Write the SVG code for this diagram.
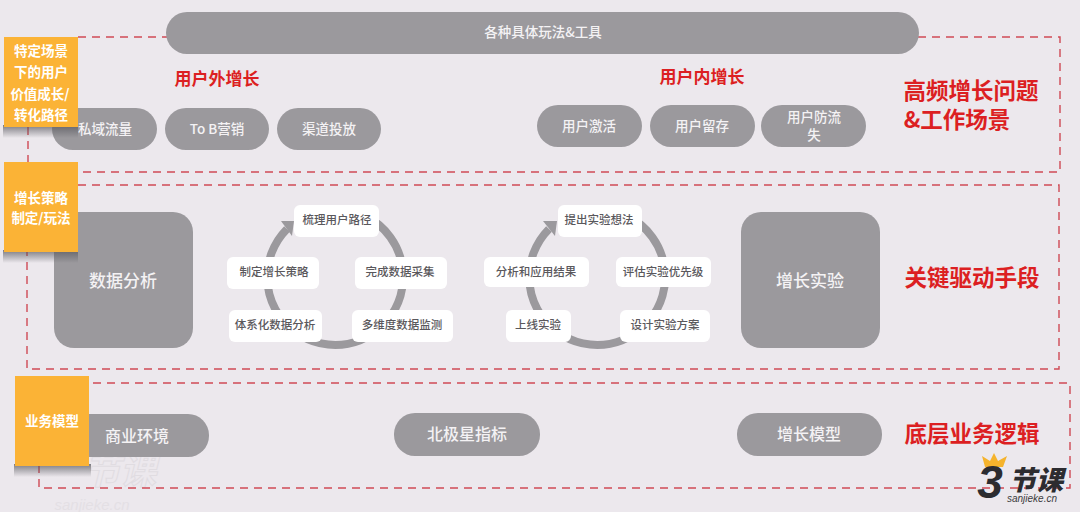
<svg xmlns="http://www.w3.org/2000/svg" width="1080" height="512" viewBox="0 0 1080 512">
<style>
text{font-family:"Noto Sans CJK SC","Liberation Sans",sans-serif;text-anchor:middle;dominant-baseline:central}
.p{fill:#9b999d}
.pt{fill:#f4f2f4;font-size:13.5px;font-weight:500}
.big{fill:#f4f2f4;font-size:17px;font-weight:500}
.mid{fill:#f4f2f4;font-size:16px;font-weight:500}
.w{fill:#fff}
.wt{fill:#5a585c;font-size:11.5px;font-weight:500}
.o{fill:#fbb336}
.ot{fill:#fff;font-size:13.5px;font-weight:700}
.r{fill:#dc1f22;font-weight:700}
.rt{font-size:17px}
.rb{font-size:22.5px}
.d{fill:none;stroke:#cf4a55;stroke-width:1.4;stroke-dasharray:8 6}
.ring{fill:none;stroke:#9b999d;stroke-width:8}
</style>
<defs>
<linearGradient id="sh" x1="0" y1="0" x2="0" y2="1"><stop offset="0" stop-color="#56565c" stop-opacity=".75"/><stop offset="1" stop-color="#56565c" stop-opacity="0"/></linearGradient>
</defs>
<rect width="1080" height="512" fill="#ece8ed"/>
<g id="watermark" opacity=".5">
<text x="120" y="468" style="font-size:36px;font-style:italic;font-weight:700;fill:none;stroke:#d6d2d7">节课</text>
<text x="92" y="504" style="font-size:15px;font-style:italic;fill:#dcd8dd;font-family:'Liberation Sans',sans-serif">sanjieke.cn</text>
</g>
<g id="connectors">
<path class="d" d="M78 37H1060V172H78"/>
<path class="d" d="M28 127V162"/>
<path class="d" d="M78 185H1059V369H27V252"/>
<path class="d" d="M93 383H1070V488H39V466"/>
</g>
<g id="top-bar"><rect class="p" x="166" y="12" width="753" height="42" rx="21"/><text class="pt" x="543" y="31">各种具体玩法&amp;工具</text></g>
<g id="label-outer"><text class="r rt" x="217" y="77">用户外增长</text></g>
<g id="label-inner"><text class="r rt" x="702" y="75">用户内增长</text></g>
<g id="n-private"><rect class="p" x="52" y="108" width="105" height="42" rx="21"/><text class="pt" x="105" y="128">私域流量</text></g>
<g id="n-tob"><rect class="p" x="165" y="108" width="104" height="42" rx="21"/><text class="pt" x="217" y="128">To B营销</text></g>
<g id="n-channel"><rect class="p" x="277" y="108" width="104" height="42" rx="21"/><text class="pt" x="329" y="128">渠道投放</text></g>
<g id="n-activate"><rect class="p" x="537" y="105" width="105" height="42" rx="21"/><text class="pt" x="589" y="125">用户激活</text></g>
<g id="n-retain"><rect class="p" x="650" y="105" width="105" height="42" rx="21"/><text class="pt" x="702" y="125">用户留存</text></g>
<g id="n-churn"><rect class="p" x="761" y="105" width="105" height="42" rx="21"/><text class="pt" x="814" y="116">用户防流</text><text class="pt" x="814" y="134">失</text></g>
<g id="n-data"><rect class="p" x="54" y="212" width="139" height="136" rx="20"/><text class="big" x="123" y="279">数据分析</text></g>
<g id="side1"><rect x="3" y="125" width="75" height="13" fill="url(#sh)"/><rect class="o" x="4" y="37" width="74" height="90"/><text class="ot" x="41" y="50">特定场景</text><text class="ot" x="41" y="71">下的用户</text><text class="ot" x="40" y="93">价值成长/</text><text class="ot" x="41" y="114">转化路径</text></g>
<g id="side2"><rect x="3" y="250" width="75" height="13" fill="url(#sh)"/><rect class="o" x="4" y="162" width="74" height="90"/><text class="ot" x="41" y="197">增长策略</text><text class="ot" x="41" y="217">制定/玩法</text></g>
<g id="ring1"><path class="ring" d="M337.5 209A68 68 0 1 1 287 229"/><path class="p" d="M294 221L281 221L292 236Z"/></g>
<g id="n-a1"><rect class="w" x="294" y="205" width="85" height="32" rx="6"/><text class="wt" x="337" y="219">梳理用户路径</text></g>
<g id="n-a2"><rect class="w" x="355" y="257" width="92" height="32" rx="6"/><text class="wt" x="400" y="271">完成数据采集</text></g>
<g id="n-a3"><rect class="w" x="352" y="310" width="101" height="32" rx="6"/><text class="wt" x="402" y="324">多维度数据监测</text></g>
<g id="n-a4"><rect class="w" x="229" y="310" width="93" height="32" rx="6"/><text class="wt" x="275" y="324">体系化数据分析</text></g>
<g id="n-a5"><rect class="w" x="227" y="257" width="92" height="32" rx="6"/><text class="wt" x="274" y="271">制定增长策略</text></g>
<g id="ring2"><path class="ring" d="M599.5 209A68 68 0 1 1 549 229"/><path class="p" d="M557 221L543 221L555 236Z"/></g>
<g id="n-b1"><rect class="w" x="558" y="205" width="84" height="32" rx="6"/><text class="wt" x="599" y="219">提出实验想法</text></g>
<g id="n-b2"><rect class="w" x="616" y="257" width="95" height="30" rx="6"/><text class="wt" x="663" y="271">评估实验优先级</text></g>
<g id="n-b3"><rect class="w" x="620" y="310" width="90" height="32" rx="6"/><text class="wt" x="665" y="324">设计实验方案</text></g>
<g id="n-b4"><rect class="w" x="506" y="310" width="65" height="32" rx="6"/><text class="wt" x="538" y="324">上线实验</text></g>
<g id="n-b5"><rect class="w" x="484" y="257" width="105" height="30" rx="6"/><text class="wt" x="536" y="271">分析和应用结果</text></g>
<g id="n-exp"><rect class="p" x="741" y="212" width="139" height="136" rx="20"/><text class="big" x="810" y="279">增长实验</text></g>
<g id="n-biz"><rect class="p" x="64" y="414" width="145" height="43" rx="21"/><text class="mid" x="137" y="435">商业环境</text></g>
<g id="side3"><rect x="14" y="464" width="77" height="13" fill="url(#sh)"/><rect class="o" x="15" y="376" width="74" height="90"/><text class="ot" x="52" y="420">业务模型</text></g>
<g id="n-north"><rect class="p" x="394" y="413" width="146" height="43" rx="21"/><text class="mid" x="467" y="433">北极星指标</text></g>
<g id="n-model"><rect class="p" x="737" y="413" width="145" height="43" rx="21"/><text class="mid" x="809" y="433">增长模型</text></g>
<g id="t1"><text class="r rb" x="971" y="89">高频增长问题</text><text class="r rb" x="957" y="118">&amp;工作场景</text></g>
<g id="t2"><text class="r rb" x="972" y="276">关键驱动手段</text></g>
<g id="t3"><text class="r rb" x="972" y="432">底层业务逻辑</text></g>
<g id="logo"><path d="M985 467L982 456L990 461L994 453L998 461L1007 456L1003 467Z" fill="#f5b32c"/><text x="990" y="482" style="font-size:46px;font-weight:700;font-style:italic;fill:#2c2c30;font-family:'Liberation Sans',sans-serif">3</text><text x="1036" y="478" style="font-size:27px;font-weight:900;font-style:italic;fill:#2c2c30">节课</text><text x="1032" y="498" style="font-size:10px;font-style:italic;fill:#3c3c40;font-family:'Liberation Sans',sans-serif">sanjieke.cn</text></g>
</svg>
